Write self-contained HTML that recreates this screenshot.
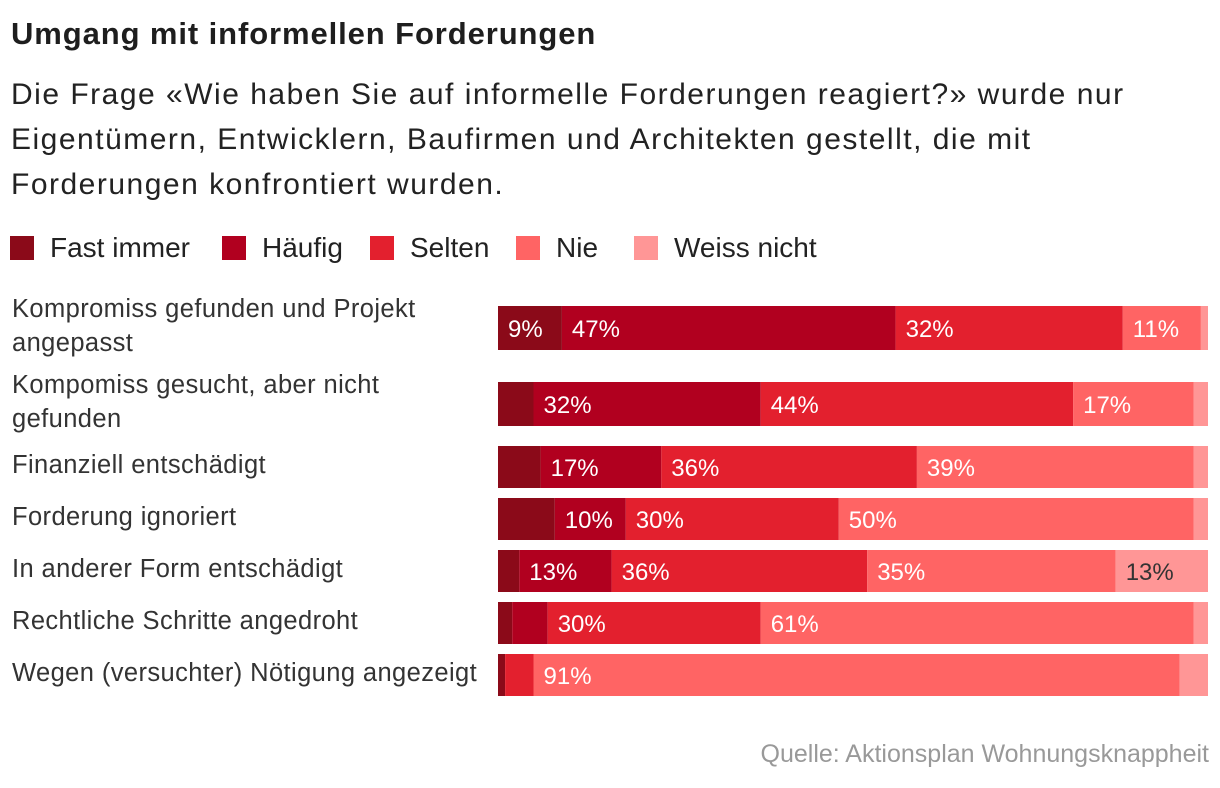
<!DOCTYPE html>
<html><head><meta charset="utf-8"><style>
body{margin:0;width:1220px;height:788px;background:#fff;font-family:"Liberation Sans",sans-serif;color:#222;overflow:hidden;position:relative}
.t{position:absolute;left:11px;top:16px;font-size:31px;font-weight:bold;color:#1e1e1e;letter-spacing:0.9px}
.s{position:absolute;left:11px;top:72px;font-size:30px;line-height:45px;color:#222;width:1200px;white-space:nowrap;letter-spacing:1.5px}
.lg{position:absolute;top:232px;left:0;font-size:28px;color:#222;height:32px;width:1000px}
.lg span{position:absolute;top:0;display:flex;align-items:center}
.lg i{display:inline-block;width:24px;height:24px;margin-right:16px}
.src{position:absolute;right:11px;top:740px;font-size:25px;color:#999}
</style></head><body>
<div class="t">Umgang mit informellen Forderungen</div>
<div class="s">Die Frage «Wie haben Sie auf informelle Forderungen reagiert?» wurde nur<br>Eigentümern, Entwicklern, Baufirmen und Architekten gestellt, die mit<br>Forderungen konfrontiert wurden.</div>
<div class="lg">
<span style="left:10px"><i style="background:#8b0a19"></i>Fast immer</span>
<span style="left:222px"><i style="background:#b1001f"></i>Häufig</span>
<span style="left:370px"><i style="background:#e3202e"></i>Selten</span>
<span style="left:516px"><i style="background:#ff6464"></i>Nie</span>
<span style="left:634px"><i style="background:#ff9696"></i>Weiss nicht</span>
</div>
<svg id="c" width="1220" height="788" style="position:absolute;left:0;top:0"></svg>
<div class="src">Quelle: Aktionsplan Wohnungsknappheit</div>
<script>
const categories=[["Kompromiss gefunden und Projekt","angepasst"],["Kompomiss gesucht, aber nicht","gefunden"],["Finanziell entschädigt"],["Forderung ignoriert"],["In anderer Form entschädigt"],["Rechtliche Schritte angedroht"],["Wegen (versuchter) Nötigung angezeigt"]];
const fastImmer=[9,5,6,8,3,2,1];
const haeufig=[47,32,17,10,13,5,0];
const selten=[32,44,36,30,36,30,4];
const nie=[11,17,39,50,35,61,91];
const weissNicht=[1,2,2,2,13,2,4];
const series=[fastImmer,haeufig,selten,nie,weissNicht];
const seriesNames=["fast-immer","haeufig","selten","nie","weiss-nicht"];
const colors=["#8b0a19","#b1001f","#e3202e","#ff6464","#ff9696"];
const rowTop=[306,382,446,498,550,602,654];
const rowH=[44,44,42,42,42,42,42];
const x0=498,W=710;
const xs=v=>v/100*W;
const svg=document.getElementById('c');const NS='http://www.w3.org/2000/svg';
categories.forEach((cat,i)=>{
  const g=document.createElementNS(NS,'g');
  
  
  svg.appendChild(g);
  const lbl=document.createElementNS(NS,'text');
  
  
  lbl.setAttribute('x',12);lbl.setAttribute('font-size','25.5');lbl.setAttribute('fill','#333');
  lbl.setAttribute('letter-spacing','0.4');
  const y1=i<2?rowTop[i]+11:rowTop[i]+27;
  cat.forEach((ln,k)=>{const ts=document.createElementNS(NS,'tspan');ts.setAttribute('x',12);ts.setAttribute('y',y1+k*34);ts.textContent=ln;lbl.appendChild(ts);});
  g.appendChild(lbl);
  let acc=0;
  series.forEach((s,j)=>{
    const v=s[i];const x=x0+xs(acc);const w=xs(v);acc+=v;
    if(v<=0)return;
    const r=document.createElementNS(NS,'rect');
    
    
    r.setAttribute('x',x);r.setAttribute('y',rowTop[i]);r.setAttribute('width',w);r.setAttribute('height',rowH[i]);r.setAttribute('fill',colors[j]);
    g.appendChild(r);
    if(v>=9){
      const t=document.createElementNS(NS,'text');
      
      
      t.setAttribute('x',x+10);t.setAttribute('y',rowTop[i]+rowH[i]/2+9);t.setAttribute('font-size','24');
      t.setAttribute('fill',j===4?'#333':'#fff');t.textContent=v+'%';g.appendChild(t);
    }
  });
});
</script>
</body></html>
